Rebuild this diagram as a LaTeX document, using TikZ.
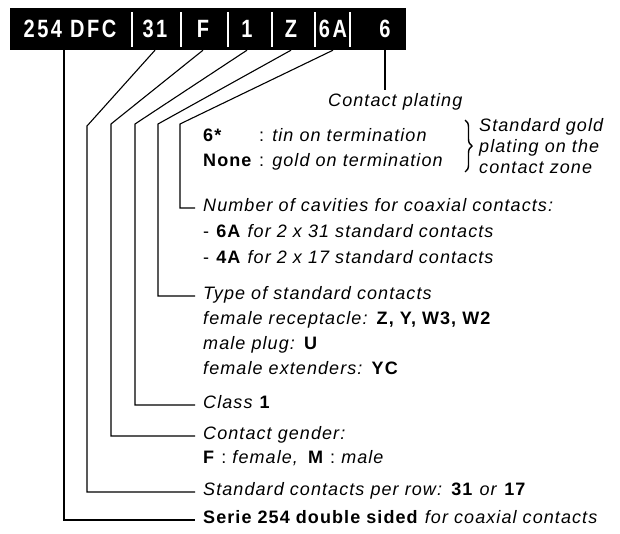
\documentclass[tikz,border=0pt]{standalone}
\usepackage{fontspec}
\setmainfont{Liberation Sans}[LetterSpace=6]
\newfontfamily\barfont[FakeStretch=0.8, LetterSpace=10]{Liberation Sans Bold}
\usetikzlibrary{
	positioning,
	calc,
	decorations.pathreplacing
}

\begin{document}
\begin{tikzpicture}[x=1pt, y=-1pt,
  campo/.style={text=white, inner sep=0pt, minimum height=42pt,
    font=\barfont\fontsize{25}{25}\selectfont},
  separador/.style={draw=white, line width=2.4pt},
  linea/.style={line width=1.1pt, shorten >=8pt},
  texto/.style={anchor=west, inner sep=0pt, text height=13pt, text depth=7pt,
    font=\fontsize{18}{22}\selectfont},
  nota/.style={anchor=west, inner sep=0pt, align=left,
    font=\fontsize{18}{21}\selectfont\itshape}
]
\useasboundingbox (0,0) rectangle (620,533);

% barra de codigo
\node[fill=black, minimum width=396pt, minimum height=42pt, inner sep=0pt] (barra) at (208,29) {};
\node[campo] (serie) at (70,29) {254 DFC};
\node[campo] (filas) at (155,29) {31};
\node[campo] (genero) at (203,29) {F};
\node[campo] (clase) at (247,29) {1};
\node[campo] (tipo) at (291,29) {Z};
\node[campo] (coax) at (333,29) {6A};
\node[campo] (chapado) at (385,29) {6};
\foreach \x in {132,181,228,272,315,350}
  \draw[separador] (\x,12) -- (\x,47);

% textos
\node[texto] (tplat) at (328,103) {\itshape Contact plating};
\node[texto] (testano) at (203,138) {\makebox[56pt][l]{\bfseries 6*}: \itshape tin on termination};
\node[texto] (toro) at (203,163) {\makebox[56pt][l]{\bfseries None}: \itshape gold on termination};
\draw[line width=1.4pt, decorate, decoration={brace, amplitude=7pt}] (465,120) -- (465,172);
\node[nota] (tnota) at (479,146) {Standard gold\\plating on the\\contact zone};

\node[texto] (tcav) at (203,208) {\itshape Number of cavities for coaxial contacts:};
\node[texto] (tcav6) at (203,234) {- \textbf{6A} \textit{for 2 x 31 standard contacts}};
\node[texto] (tcav4) at (203,260) {- \textbf{4A} \textit{for 2 x 17 standard contacts}};

\node[texto] (ttipo) at (203,296) {\itshape Type of standard contacts};
\node[texto] (ttipo1) at (203,321) {\textit{female receptacle:} \textbf{Z, Y, W3, W2}};
\node[texto] (ttipo2) at (203,346) {\textit{male plug:} \textbf{U}};
\node[texto] (ttipo3) at (203,371) {\textit{female extenders:} \textbf{YC}};

\node[texto] (tclase) at (203,405) {\textit{Class} \textbf{1}};
\node[texto] (tgen) at (203,436) {\itshape Contact gender:};
\node[texto] (tgen1) at (203,460) {\textbf{F} : \textit{female,}\enspace\textbf{M} : \textit{male}};
\node[texto] (tfilas) at (203,492) {\textit{Standard contacts per row:} \textbf{31} \textit{or} \textbf{17}};
\node[texto] (tserie) at (203,520) {\textbf{Serie 254 double sided} \textit{for coaxial contacts}};

% lineas de referencia
\coordinate (q1) at (87,126);
\coordinate (q2) at (111,124);
\coordinate (q3) at (135,124);
\coordinate (q4) at (158,124);
\coordinate (q5) at (180,124);
\draw[linea] ([xshift=-6pt]serie.south) |- (tserie.west);
\draw[linea] (filas.south) -- (q1) |- (tfilas.west);
\draw[linea] (genero.south) -- (q2) |- (tgen.west);
\draw[linea] (clase.south) -- (q3) |- (tclase.west);
\draw[linea] (tipo.south) -- (q4) |- (ttipo.west);
\draw[linea] (coax.south) -- (q5) |- (tcav.west);
\draw[linea, shorten >=3pt] (chapado.south) -- (chapado.south |- tplat.north);
\end{tikzpicture}
\end{document}
